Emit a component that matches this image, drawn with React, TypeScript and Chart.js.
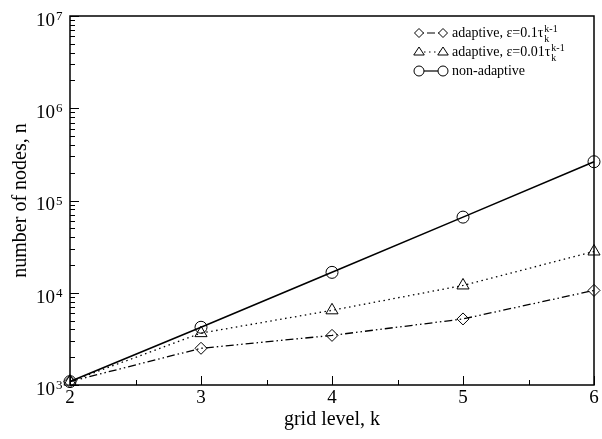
import React, { useEffect, useRef } from "react";
import { Chart, registerables } from "chart.js";

Chart.register(...registerables);

// grid level k on the horizontal axis
const gridLevels = [2, 3, 4, 5, 6];
// number of nodes per grid level
const nodesAdaptive01 = [1089, 2500, 3450, 5200, 10600];
const nodesAdaptive001 = [1089, 3650, 6450, 12000, 28000];
const nodesNonAdaptive = [1089, 4225, 16641, 66049, 263169];

// axis ticks
const xMajorTicks = [2, 3, 4, 5, 6];
const xMinorTicks = [2.5, 3.5, 4.5, 5.5];
const yDecadeExponents = [3, 4, 5, 6, 7];
const yMinorMultipliers = [2, 3, 4, 5, 6, 7, 8, 9];

const SERIF = '"Liberation Serif", "Times New Roman", serif';

const DASH_01 = [8, 3, 1.5, 3, 1.5, 3];
const DASH_001 = [1.5, 3.5];

type LegendRow = {
  style: string;
  radius: number;
  dash: number[];
  dashOffset: number;
  text: string;
  sup?: string;
  sub?: string;
};
const legendRows: LegendRow[] = [
  { style: "rectRot", radius: 4.5, dash: DASH_01, dashOffset: 12, text: "adaptive, \u03b5=0.1\u03c4", sup: "k-1", sub: "k" },
  { style: "triangle", radius: 5, dash: DASH_001, dashOffset: 0, text: "adaptive, \u03b5=0.01\u03c4", sup: "k-1", sub: "k" },
  { style: "circle", radius: 5, dash: [], dashOffset: 0, text: "non-adaptive" },
];

function drawMarker(ctx: CanvasRenderingContext2D, style: string, cx: number, cy: number, r: number) {
  ctx.beginPath();
  if (style === "circle") {
    ctx.arc(cx, cy, r, 0, Math.PI * 2);
  } else if (style === "triangle") {
    const h = r * 1.6;
    ctx.moveTo(cx, cy - r);
    ctx.lineTo(cx + r * 1.05, cy + h - r);
    ctx.lineTo(cx - r * 1.05, cy + h - r);
    ctx.closePath();
  } else {
    ctx.moveTo(cx, cy - r);
    ctx.lineTo(cx + r, cy);
    ctx.lineTo(cx, cy + r);
    ctx.lineTo(cx - r, cy);
    ctx.closePath();
  }
  ctx.fillStyle = "#fff";
  ctx.fill();
  ctx.stroke();
}

const frameAxesPlugin = {
  id: "frameAxes",
  afterDraw(chart: any) {
    const { ctx, chartArea: a, scales } = chart;
    const x = scales.x;
    const y = scales.y;
    ctx.save();
    ctx.strokeStyle = "#000";
    ctx.setLineDash([]);

    // inward tick marks
    ctx.lineWidth = 1;
    ctx.beginPath();
    for (const v of xMajorTicks) {
      const px = Math.round(x.getPixelForValue(v)) + 0.5;
      ctx.moveTo(px, a.bottom);
      ctx.lineTo(px, a.bottom - 9);
    }
    for (const v of xMinorTicks) {
      const px = Math.round(x.getPixelForValue(v)) + 0.5;
      ctx.moveTo(px, a.bottom);
      ctx.lineTo(px, a.bottom - 5);
    }
    for (const e of yDecadeExponents) {
      const py = Math.round(y.getPixelForValue(Math.pow(10, e))) + 0.5;
      ctx.moveTo(a.left, py);
      ctx.lineTo(a.left + 9, py);
      if (e < yDecadeExponents[yDecadeExponents.length - 1]) {
        for (const m of yMinorMultipliers) {
          const pm = Math.round(y.getPixelForValue(m * Math.pow(10, e))) + 0.5;
          ctx.moveTo(a.left, pm);
          ctx.lineTo(a.left + 5, pm);
        }
      }
    }
    ctx.stroke();

    // frame
    ctx.lineWidth = 1.5;
    ctx.strokeRect(a.left, a.top, a.right - a.left, a.bottom - a.top);

    // tick labels
    ctx.fillStyle = "#000";
    ctx.font = `19px ${SERIF}`;
    ctx.textAlign = "center";
    ctx.textBaseline = "middle";
    for (const v of xMajorTicks) {
      ctx.fillText(String(v), x.getPixelForValue(v), a.bottom + 13);
    }
    for (const e of yDecadeExponents) {
      const py = y.getPixelForValue(Math.pow(10, e));
      ctx.font = `19px ${SERIF}`;
      ctx.textAlign = "right";
      ctx.textBaseline = "middle";
      ctx.fillText("10", 55, py + 5);
      ctx.font = `13px ${SERIF}`;
      ctx.textAlign = "left";
      ctx.textBaseline = "alphabetic";
      ctx.fillText(String(e), 56, py + 4);
    }

    // axis titles
    ctx.font = `20px ${SERIF}`;
    ctx.textAlign = "center";
    ctx.textBaseline = "middle";
    ctx.fillText("grid level, k", (a.left + a.right) / 2, a.bottom + 35);
    ctx.save();
    ctx.translate(21, (a.top + a.bottom) / 2);
    ctx.rotate(-Math.PI / 2);
    ctx.fillText("number of nodes, n", 0, 0);
    ctx.restore();

    // legend
    const rowY = [33, 52, 71];
    legendRows.forEach((row, i) => {
      const cy = rowY[i];
      ctx.lineWidth = 1.2;
      ctx.setLineDash(row.dash);
      ctx.lineDashOffset = row.dashOffset;
      ctx.beginPath();
      ctx.moveTo(419, cy);
      ctx.lineTo(443, cy);
      ctx.stroke();
      ctx.setLineDash([]);
      ctx.lineDashOffset = 0;
      ctx.lineWidth = 1;
      drawMarker(ctx, row.style, 419, cy, row.radius);
      drawMarker(ctx, row.style, 443, cy, row.radius);
      ctx.fillStyle = "#000";
      ctx.font = `14px ${SERIF}`;
      ctx.textAlign = "left";
      ctx.textBaseline = "middle";
      ctx.fillText(row.text, 452, cy);
      const w = ctx.measureText(row.text).width;
      ctx.font = `10px ${SERIF}`;
      if (row.sup) ctx.fillText(row.sup, 452 + w + 1, cy - 4);
      if (row.sub) ctx.fillText(row.sub, 452 + w + 1, cy + 6);
    });

    ctx.restore();
  },
};

function toPoints(values: number[]) {
  return gridLevels.map((k, i) => ({ x: k, y: values[i] }));
}

export default function App() {
  const canvasRef = useRef<HTMLCanvasElement | null>(null);

  useEffect(() => {
    const canvas = canvasRef.current;
    if (!canvas) return;
    const common = {
      borderColor: "#000",
      pointBorderColor: "#000",
      pointBackgroundColor: "rgba(0,0,0,0)",
      pointBorderWidth: 1,
      tension: 0,
      clip: false as const,
      fill: false,
    };
    const chart = new Chart(canvas, {
      type: "line",
      data: {
        datasets: [
          {
            ...common,
            label: "adaptive, \u03b5=0.1\u03c4",
            data: toPoints(nodesAdaptive01),
            borderWidth: 1.3,
            borderDash: DASH_01,
            pointStyle: "rectRot",
            pointRadius: 6,
          },
          {
            ...common,
            label: "adaptive, \u03b5=0.01\u03c4",
            data: toPoints(nodesAdaptive001),
            borderWidth: 1.3,
            borderDash: DASH_001,
            pointStyle: "triangle",
            pointRadius: 7,
          },
          {
            ...common,
            label: "non-adaptive",
            data: toPoints(nodesNonAdaptive),
            borderWidth: 1.6,
            pointStyle: "circle",
            pointRadius: 6,
          },
        ],
      },
      options: {
        responsive: false,
        animation: false,
        devicePixelRatio: 1,
        layout: { padding: { left: 70, right: 6, top: 16, bottom: 54 } },
        scales: {
          x: { type: "linear", min: 2, max: 6, display: false },
          y: { type: "logarithmic", min: 1000, max: 1e7, display: false },
        },
        plugins: {
          legend: { display: false },
          tooltip: { enabled: false },
        },
      },
      plugins: [frameAxesPlugin],
    });
    return () => chart.destroy();
  }, []);

  return (
    <div style={{ position: "absolute", left: 0, top: 0, width: 602, height: 439, background: "#fff" }}>
      <canvas ref={canvasRef} width={602} height={439} />
    </div>
  );
}
